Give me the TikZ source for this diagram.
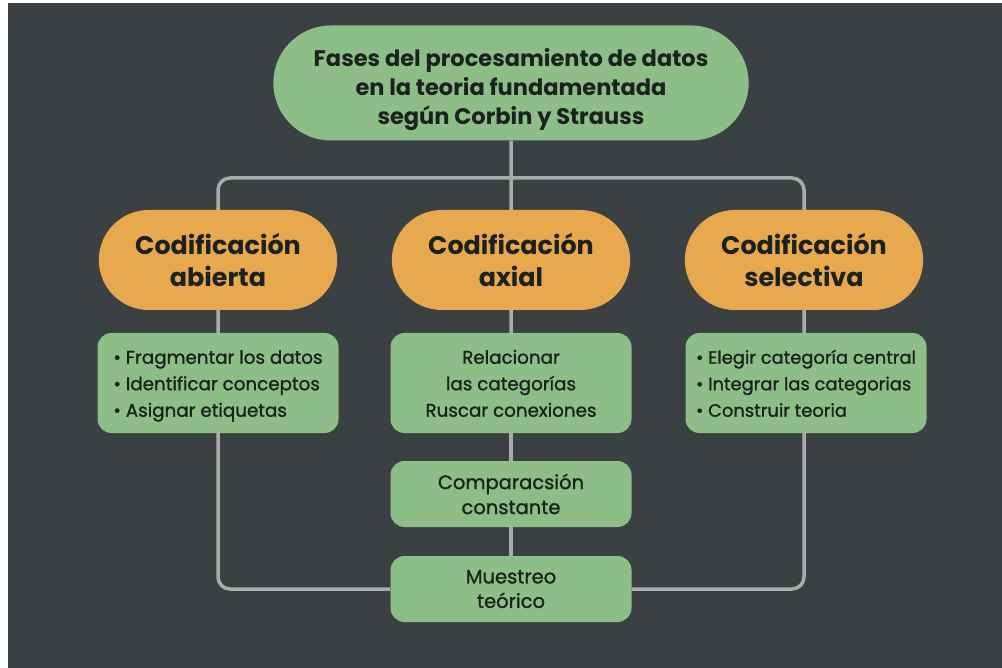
\documentclass[tikz,border=0pt]{standalone}
\usepackage{fontspec}
\setmainfont{Poppins}
\newfontfamily\medfont{Poppins}[FakeBold=1.2]
\usetikzlibrary{shapes.misc}

\definecolor{bgdark}{HTML}{3B4042}
\definecolor{leafgreen}{HTML}{8DBE88}
\definecolor{phaseorange}{HTML}{E8A84E}
\definecolor{linkgray}{HTML}{A9ACA9}
\definecolor{inkdark}{HTML}{1B211D}

\newcommand\topgap{\rule{0pt}{19.5pt}}
\newcommand\lowgap{\rule[-5pt]{0pt}{5pt}}

\begin{document}
\begin{tikzpicture}[x=1pt,y=-1pt,
  pill/.style={rounded rectangle, fill=leafgreen, text=inkdark, align=center},
  phase/.style={rounded rectangle, fill=phaseorange, text=inkdark, align=center,
    minimum width=245pt, minimum height=100pt, font=\bfseries\fontsize{25.4}{31.5}\selectfont},
  card/.style={rectangle, rounded corners=14pt, fill=leafgreen, text=inkdark,
    minimum width=241pt, font=\medfont\fontsize{18.3}{26.5}\selectfont},
  link/.style={draw=linkgray, line width=3.5pt, rounded corners=12pt}]
  \useasboundingbox (0,0) rectangle (1002,668);
  \fill[white] (0,0) rectangle (1002,668);
  \fill[bgdark] (8,3) rectangle (1002,668);

  % title
  \node[pill, minimum width=482pt, minimum height=115pt,
    font=\bfseries\fontsize{22.5}{29}\selectfont] (title) at (511,83)
    {\rule{0pt}{31pt}Fases del procesamiento de datos\\en la teoria fundamentada\\según Corbin y Strauss};

  % phases
  \node[phase] (abierta) at (218,260) {Codificación\\abierta};
  \node[phase] (axial) at (511,260) {Codificación\\axial};
  \node[phase] (selectiva) at (804,260) {Codificación\\selectiva};

  % tasks
  \node[card, minimum height=100pt, align=left] (abiertaList) at (218,383)
    {\topgap\textbullet\ Fragmentar los datos\\\textbullet\ Identificar conceptos\\\textbullet\ Asignar etiquetas\lowgap};
  \node[card, minimum height=100pt, align=center] (axialList) at (511,383)
    {\topgap Relacionar\\las categorías\\Ruscar conexiones\lowgap};
  \node[card, minimum height=100pt, align=left,
    font=\medfont\fontsize{17.9}{26.5}\selectfont] (selectivaList) at (806,383)
    {\topgap\textbullet\ Elegir categoría central\\\textbullet\ Integrar las categorias\\\textbullet\ Construir teoria\lowgap};
  \node[card, minimum height=66pt, align=center, font=\medfont\fontsize{19.5}{25}\selectfont] (comparacion) at (511,494)
    {Comparacsión\\constante};
  \node[card, minimum height=66pt, align=center, font=\medfont\fontsize{19.5}{24.5}\selectfont] (muestreo) at (511,589)
    {Muestreo\\teórico};

  % links
  \coordinate (fork) at (511,178);
  \draw[link] (title) -- (fork);
  \draw[link] (fork) -| (abierta);
  \draw[link] (fork) -| (selectiva);
  \draw[link] (fork) -- (axial);
  \draw[link] (abierta) -- (abiertaList);
  \draw[link] (axial) -- (axialList);
  \draw[link] (selectiva) -- (selectiva |- selectivaList.north);
  \draw[link] (axialList) -- (comparacion);
  \draw[link] (comparacion) -- (muestreo);
  \draw[link] (abiertaList) |- (muestreo);
  \draw[link] (selectiva |- selectivaList.south) |- (muestreo);
\end{tikzpicture}
\end{document}
